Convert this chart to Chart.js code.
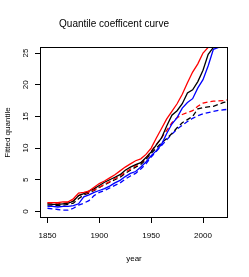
<!DOCTYPE html>
<html>
<head>
<meta charset="utf-8">
<script src="https://cdn.jsdelivr.net/npm/chart.js@4"></script>
<style>
  html, body { margin: 0; padding: 0; background: #fff; }
  canvas { display: block; }
</style>
</head>
<body>
<canvas id="quantileChart" width="249" height="277"></canvas>
<script>
const years = [1850, 1855, 1860, 1865, 1870, 1875, 1880, 1885, 1890, 1895,
  1900, 1905, 1910, 1915, 1920, 1925, 1930, 1935, 1940, 1945,
  1950, 1955, 1960, 1965, 1970, 1975, 1980, 1985, 1990, 1995,
  2000, 2005, 2010, 2015, 2020, 2023];

const redSolid = [1.4, 1.4, 1.4, 1.5, 1.5, 2.0, 2.9, 3.0, 3.2, 3.8,
  4.4, 4.8, 5.3, 5.8, 6.4, 7.0, 7.5, 8.0, 8.3, 9.0,
  10.0, 11.6, 13.1, 14.6, 15.8, 17.0, 18.5, 20.3, 22.0, 23.3,
  25.0, 25.9, 25.9, 25.9, 25.9, 25.9];
const blackSolid = [1.2, 1.1, 1.1, 1.2, 1.3, 1.6, 2.5, 2.8, 3.2, 3.6,
  4.1, 4.6, 5.0, 5.4, 5.8, 6.5, 7.0, 7.4, 7.7, 8.5,
  9.4, 10.5, 11.6, 13.5, 15.2, 15.9, 17.0, 18.7, 19.2, 20.5,
  22.3, 24.8, 25.9, 25.9, 25.9, 25.9];
const blueSolid = [0.8, 0.8, 0.7, 0.8, 0.8, 0.9, 1.2, 2.3, 2.6, 3.0,
  3.3, 3.6, 4.0, 4.5, 4.9, 5.5, 6.0, 6.3, 7.0, 7.8,
  8.8, 9.6, 10.6, 12.3, 13.8, 14.8, 16.3, 17.2, 17.8, 19.5,
  20.8, 23.0, 25.6, 25.9, 25.9, 25.9];
const redDashed = [1.3, 1.3, 1.2, 1.3, 1.4, 1.7, 2.5, 2.8, 3.0, 3.4,
  3.8, 4.3, 4.7, 5.2, 5.6, 6.2, 6.7, 7.2, 7.7, 8.4,
  9.5, 10.6, 11.6, 12.8, 14.0, 14.8, 15.3, 15.6, 15.9, 16.6,
  17.1, 17.3, 17.4, 17.45, 17.5, 17.6];
const blackDashed = [1.0, 1.0, 0.9, 1.0, 1.1, 1.3, 2.0, 2.6, 2.9, 3.3,
  3.8, 4.2, 4.6, 5.0, 5.4, 6.0, 6.5, 7.0, 7.4, 8.2,
  9.2, 10.0, 10.8, 11.5, 12.3, 13.2, 14.0, 14.5, 15.0, 16.2,
  16.4, 16.5, 16.6, 16.9, 17.2, 17.3];
const blueDashed = [0.5, 0.4, 0.3, 0.2, 0.2, 0.5, 1.0, 1.3, 1.7, 2.5,
  3.0, 3.3, 3.7, 4.1, 4.5, 5.1, 5.6, 6.0, 6.7, 7.5,
  8.6, 9.5, 10.4, 11.3, 12.2, 13.0, 13.6, 14.2, 14.7, 15.1,
  15.4, 15.6, 15.8, 15.95, 16.05, 16.1];

const xTicks = [1850, 1900, 1950, 2000];
const yTicks = [0, 5, 10, 15, 20, 25];

const FONT = "'Liberation Sans', Arial, Helvetica, sans-serif";

const toPoints = (vals) => vals.map((v, i) => ({ x: years[i], y: v }));

const line = (label, vals, color, dashed) => ({
  label: label,
  data: toPoints(vals),
  borderColor: color,
  borderWidth: 1.3,
  borderDash: dashed ? [5, 3] : [],
  pointRadius: 0,
  tension: 0,
  fill: false,
});

// box round the plot region, like R's bty="o"
const frame = {
  id: 'frame',
  afterDatasetsDraw(chart) {
    const { ctx, chartArea: a } = chart;
    ctx.save();
    ctx.strokeStyle = '#000';
    ctx.lineWidth = 1;
    ctx.strokeRect(a.left + 0.5, a.top + 0.5, a.right - a.left - 1, a.bottom - a.top - 1);
    ctx.restore();
  },
};

// R writes the y labels parallel to the axis (las = 0)
const yLabels = {
  id: 'yLabels',
  afterDraw(chart) {
    const { ctx } = chart;
    const y = chart.scales.y;
    ctx.save();
    ctx.fillStyle = '#000';
    ctx.font = '8px ' + FONT;
    ctx.textAlign = 'center';
    ctx.textBaseline = 'middle';
    yTicks.forEach((v) => {
      ctx.save();
      ctx.translate(y.right - 14, y.getPixelForValue(v));
      ctx.rotate(-Math.PI / 2);
      ctx.fillText(String(v), 0, 0);
      ctx.restore();
    });
    ctx.restore();
  },
};

const config = {
  type: 'line',
  data: {
    datasets: [
      line('red', redSolid, '#ff0000', false),
      line('black', blackSolid, '#000000', false),
      line('blue', blueSolid, '#0000ff', false),
      line('red dashed', redDashed, '#ff0000', true),
      line('black dashed', blackDashed, '#000000', true),
      line('blue dashed', blueDashed, '#0000ff', true),
    ],
  },
  options: {
    responsive: false,
    devicePixelRatio: 1,
    animation: false,
    layout: { padding: { left: 0, right: 21, top: 0, bottom: 0 } },
    plugins: {
      legend: { display: false },
      tooltip: { enabled: false },
      title: {
        display: true,
        text: 'Quantile coefficent curve',
        color: '#000',
        font: { family: FONT, size: 10, weight: 'normal' },
        padding: { top: 18, bottom: 17 },
      },
    },
    scales: {
      x: {
        type: 'linear',
        min: 1842.8,
        max: 2024.1,
        afterBuildTicks: (s) => { s.ticks = xTicks.map((v) => ({ value: v })); },
        afterFit: (s) => { s.height = 59; },
        grid: { drawOnChartArea: false, drawTicks: true, tickLength: 5, color: '#000' },
        border: { display: false },
        ticks: {
          color: '#000',
          font: { family: FONT, size: 8 },
          padding: 8,
          maxRotation: 0,
          callback: (v) => String(v),
        },
        title: {
          display: true,
          text: 'year',
          color: '#000',
          font: { family: FONT, size: 8 },
          padding: { top: 0, bottom: 13 },
        },
      },
      y: {
        type: 'linear',
        min: -1.04,
        max: 25.96,
        afterBuildTicks: (s) => { s.ticks = yTicks.map((v) => ({ value: v })); },
        afterFit: (s) => { s.width = 40; },
        grid: { drawOnChartArea: false, drawTicks: true, tickLength: 5, color: '#000' },
        border: { display: false },
        ticks: { display: false },
        title: {
          display: true,
          text: 'Fitted quantile',
          color: '#000',
          font: { family: FONT, size: 8 },
          padding: { top: 3, bottom: 0 },
        },
      },
    },
  },
  plugins: [frame, yLabels],
};

const myChart = new Chart(document.getElementById('quantileChart'), config);
</script>
</body>
</html>
